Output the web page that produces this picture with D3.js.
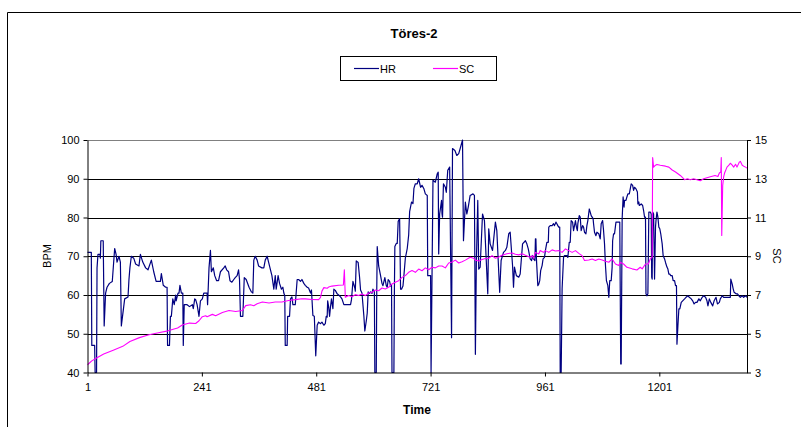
<!DOCTYPE html>
<html>
<head>
<meta charset="utf-8">
<script src="https://cdn.jsdelivr.net/npm/d3@7"></script>
<style>
  body { margin: 0; background: #fff; }
  svg { display: block; font-family: "Liberation Sans", Arial, sans-serif; }
</style>
</head>
<body>
<svg id="chart" width="801" height="427"></svg>
<script>
// Axis tick values
const timeTicks = [1, 241, 481, 721, 961, 1201];
const bpmTicks = [40, 50, 60, 70, 80, 90, 100];
const scTicks = [3, 5, 7, 9, 11, 13, 15];
const timeRange = [1, 1385];

// Heart rate (BPM), [time, value]
const hrPoints = [
  [1,71],[9,71],[10,47],[16,47],[17,40],[20,40],[21,67],[23,70.5],[27,70.5],[28,69.5],[29,74],[34,74],
  [36,52],[39,60.5],[42,62],[47,63],[53,63.5],[58,72],[61,70.5],[63,68.5],[67,70],[70,68.5],[72,52],
  [75,55],[79,59],[86,59.5],[88,64],[90,67],[93,70],[98,69.5],[102,68],[109,67.5],[112,70.5],[117,68.5],
  [123,67],[128,66.5],[135,69],[140,66],[145,63.5],[154,63.5],[156,65.5],[160,62.5],[165,62],[168,62],
  [169,47],[173,47],[175,54.5],[177,54.5],[180,59],[183,57.5],[186,60],[187,58.5],[191,60.5],[193,60.5],
  [195,62.5],[198,60.5],[201,60.5],[202,47],[204,57.5],[210,57.5],[215,57],[221,57.5],[223,56.5],
  [226,59],[228,58.8],[231,57.5],[235,54.5],[238,58.5],[242,59],[245,60.5],[252,60.5],[253,57.5],
  [256,67],[259,71.5],[261,66],[265,67],[268,65],[272,63.7],[276,63.7],[280,66],[287,67],[290,67.5],
  [293,66.5],[297,66],[300,63.7],[304,63.3],[308,64],[311,64.5],[315,65],[318,66.5],[320,64],
  [322,54.5],[327,54.5],[330,64.5],[334,64],[340,62],[345,60.8],[348,60.5],[350,69],[353,70],[357,69],
  [360,67.5],[367,67],[371,67],[374,69],[378,70],[381,68.5],[385,66.5],[388,65],[392,61.5],[395,65],
  [397,61.5],[401,65],[404,63],[408,61.5],[411,62],[413,60.5],[415,59.8],[416,47],[420,47],[421,54.5],
  [425,54.5],[427,59],[430,59.5],[432,57.5],[437,57.5],[441,64],[444,64],[448,63.5],[451,64],[455,63],
  [458,62.5],[462,62],[465,61.8],[469,60.5],[471,61.3],[474,54.7],[477,54.5],[480,44.3],[483,52.2],
  [486,53],[490,52.6],[493,53],[497,52.2],[500,52.6],[502,54.5],[504,54.3],[505,58.5],[507,57],
  [509,54.5],[511,57],[513,59],[516,56.5],[518,61.5],[521,61.2],[525,60.3],[528,60],[532,59.5],[535,59],
  [539,57.5],[546,57.5],[553,57.5],[555,58.8],[558,63.5],[562,61.8],[563,61],[565,68.8],[569,68.4],
  [572,64.5],[574,61.3],[577,60.5],[581,54.5],[583,50.7],[586,53.3],[588,55.3],[590,60.8],[593,60.4],
  [595,60.8],[598,60.4],[600,61.5],[603,60.8],[604,40],[607,40],[608,60.8],[609,72.5],[612,67.5],
  [616,65],[619,63],[621,62.4],[625,64.5],[628,62.4],[630,62],[632,64],[635,63.5],[637,62.3],[639,62.7],
  [640,40],[644,40],[645,60.5],[646,72.5],[649,73.3],[651,73.3],[653,79],[656,79.7],[658,61.5],
  [660,61.5],[663,62.3],[665,65],[668,69.5],[672,72],[675,75.5],[677,81.5],[681,84],[684,83.6],
  [686,87.5],[689,88.7],[693,88.7],[696,90],[700,87.8],[703,88.3],[707,87.4],[710,86.1],[714,85.7],
  [715,65],[721,65],[722,40],[726,89.6],[731,89.1],[735,91.3],[737,91.7],[738,70.6],[740,80.9],
  [744,84.4],[745,80.9],[746,80.1],[748,88.7],[752,87.8],[754,86.5],[757,92.2],[761,93],[765,49],
  [767,97.8],[772,97.3],[776,96],[780,96.5],[784,98.2],[788,100],[790,74],[794,84],[797,80.9],
  [800,82.7],[804,85.7],[810,86.1],[813,85.7],[815,44.7],[817,68],[820,84.4],[822,66.7],[825,67.2],
  [830,80.9],[834,79.2],[841,60.3],[843,77.1],[846,73.2],[851,71.5],[857,78.8],[860,76.6],[866,60.7],
  [869,68.9],[874,71],[878,71.5],[881,72.3],[885,75.8],[888,76.2],[893,67.6],[895,62],[897,67.2],
  [901,65],[906,64.6],[909,65.4],[914,73.2],[920,74],[923,73.2],[926,71.9],[928,70.6],[930,69.3],
  [933,68.9],[935,70.2],[937,69.3],[940,68.9],[941,74.5],[942,74.5],[943,69.7],[944,67.2],[946,62.4],
  [948,62.8],[950,63.7],[952,66.3],[955,67.6],[957,69.3],[960,69.7],[962,71.5],[965,73.6],[968,73.6],
  [969,77.5],[972,77.9],[976,77.9],[979,78.4],[981,77.9],[984,78.8],[986,78.4],[988,77.9],[990,77.5],
  [992,77.5],[993,40],[995,40],[997,61.6],[1000,69.7],[1002,70.2],[1007,70.2],[1009,69.7],[1012,73.6],
  [1014,73.6],[1016,79.2],[1019,78.8],[1021,76.6],[1023,77.9],[1025,79.2],[1027,77.5],[1029,76.6],
  [1030,78.4],[1033,80.5],[1035,80.1],[1037,76.6],[1040,77.9],[1042,77.5],[1044,76.2],[1047,75.8],
  [1049,77.9],[1051,79.2],[1054,82.2],[1056,81.4],[1058,80.5],[1062,79.7],[1063,78.4],[1065,76.2],
  [1068,75.3],[1070,76.2],[1074,75.8],[1077,74.5],[1079,78.4],[1082,79.2],[1084,76.6],[1086,73.2],
  [1088,67.6],[1090,63.7],[1093,62.4],[1095,59.4],[1097,63.7],[1100,63.7],[1102,67.2],[1103,74],
  [1105,75.8],[1107,75.8],[1110,78.8],[1113,78.8],[1116,78.8],[1118,78.8],[1120,42.2],[1121,42.2],
  [1123,79.7],[1125,85.3],[1127,82.7],[1128,84.4],[1131,84.4],[1133,85.3],[1135,86.1],[1138,86.1],
  [1140,87.4],[1142,88.7],[1145,88.3],[1147,87],[1149,87.8],[1152,87.4],[1155,86.6],[1156,83.5],
  [1158,84],[1159,83.1],[1163,83.5],[1166,83.1],[1168,81.8],[1170,80.1],[1172,80.1],[1173,60.3],
  [1175,59.8],[1177,60.3],[1179,81.4],[1182,81.4],[1184,80.9],[1185,64.6],[1186,64.1],[1187,81.4],
  [1189,80.9],[1191,64.1],[1193,77.5],[1194,79.2],[1196,81.4],[1198,80.1],[1200,77.5],[1202,77.1],
  [1204,75.8],[1207,73.2],[1209,70.2],[1212,69.3],[1214,68.4],[1217,67.2],[1219,66.7],[1221,65.4],
  [1223,65.4],[1225,65],[1228,65],[1230,63.7],[1233,63.7],[1235,62.4],[1237,62.4],[1238,47.3],
  [1240,52.1],[1242,56.4],[1244,56.4],[1247,58.1],[1250,58.5],[1254,59],[1257,59.4],[1261,59.8],
  [1264,59.4],[1268,59],[1271,58.5],[1274,57.7],[1277,58.1],[1280,58.1],[1284,59],[1287,58.5],
  [1291,59.4],[1294,59.8],[1298,59.4],[1301,58.5],[1303,57.2],[1306,59],[1309,58.1],[1313,57.2],
  [1316,58.5],[1320,59.4],[1323,57.7],[1327,58.1],[1329,59],[1333,59.8],[1336,59.4],[1340,59.4],
  [1343,59.4],[1347,59.4],[1350,59.4],[1351,64.1],[1354,62.8],[1356,61.6],[1358,60.7],[1362,60.3],
  [1365,60.3],[1368,59.8],[1371,59.4],[1375,59.8],[1378,59.4],[1382,59.8],[1385,59.4]
];

// Skin conductance (SC), [time, value]
const scPoints = [
  [1,3.4],[10,3.6],[20,3.75],[35,3.95],[55,4.15],[75,4.35],[90,4.6],[110,4.8],[130,4.95],[150,5.05],
  [170,5.15],[190,5.3],[200,5.45],[215,5.55],[228,5.53],[235,5.67],[242,5.88],[249,5.93],[252,5.88],
  [263,6.0],[270,5.93],[284,6.1],[298,6.2],[312,6.15],[326,6.2],[333,6.45],[343,6.5],[350,6.45],
  [357,6.55],[368,6.64],[382,6.59],[395,6.64],[409,6.64],[423,6.72],[437,6.76],[451,6.81],[458,6.8],
  [472,6.77],[486,6.76],[490,6.88],[493,7.2],[497,7.38],[504,7.35],[507,7.41],[514,7.46],[528,7.5],
  [538,7.52],[540,8.3],[542,6.88],[549,6.97],[556,6.91],[563,7.02],[570,6.97],[577,7.05],[584,6.97],
  [591,7.1],[598,7.14],[605,7.26],[612,7.22],[619,7.36],[626,7.31],[633,7.4],[640,7.57],[647,7.66],
  [654,7.74],[661,7.91],[668,8.0],[675,8.17],[682,8.26],[689,8.17],[696,8.34],[703,8.25],[710,8.4],
  [717,8.3],[724,8.43],[731,8.4],[738,8.5],[745,8.5],[752,8.4],[759,8.65],[766,8.7],[773,8.8],
  [780,8.65],[787,8.72],[794,8.8],[804,8.95],[811,8.9],[815,8.8],[822,8.75],[829,8.83],[836,8.88],
  [843,8.9],[850,9.03],[857,8.9],[864,8.96],[871,9.05],[881,9.13],[892,9.17],[899,9.1],[906,9.07],
  [913,9.13],[920,9.05],[927,8.98],[930,8.95],[934,9.03],[937,8.9],[941,9.2],[948,9.12],[951,9.3],
  [958,9.2],[962,9.29],[969,9.2],[976,9.33],[983,9.27],[990,9.29],[997,9.2],[1004,9.38],[1011,9.29],
  [1018,9.2],[1025,9.29],[1032,9.15],[1039,9.03],[1044,8.78],[1053,8.81],[1060,8.86],[1067,8.78],
  [1074,8.86],[1081,8.81],[1088,8.74],[1095,8.69],[1102,8.86],[1109,8.6],[1116,8.52],[1119,8.69],
  [1126,8.6],[1133,8.43],[1144,8.35],[1154,8.29],[1161,8.43],[1165,8.35],[1172,8.6],[1178,8.6],
  [1182,8.86],[1186,8.95],[1187,14.1],[1189,13.6],[1193,13.7],[1196,13.74],[1203,13.7],
  [1214,13.65],[1221,13.6],[1228,13.45],[1235,13.35],[1245,13.17],[1254,12.95],[1260,13.0],
  [1266,12.95],[1273,13.0],[1280,12.95],[1287,12.9],[1294,13.0],[1301,13.05],[1308,13.1],[1318,13.17],
  [1324,13.12],[1327,13.3],[1330,13.35],[1331,14.1],[1332,10.07],[1334,12.65],[1336,13.1],[1338,13.3],
  [1343,13.6],[1347,13.7],[1350,13.8],[1354,13.7],[1357,13.6],[1361,13.75],[1364,13.6],[1369,13.86],
  [1371,13.9],[1375,13.7],[1378,13.65],[1382,13.6],[1385,13.55]
];

const svg = d3.select("#chart");
const plot = { left: 87.5, right: 747, top: 140, bottom: 372.5 };

const x = d3.scaleLinear().domain(timeRange).range([plot.left, plot.right]);
const yL = d3.scaleLinear().domain([40, 100]).range([plot.bottom, plot.top]);
const yR = d3.scaleLinear().domain([3, 15]).range([plot.bottom, plot.top]);

// chart frame (left and top edges)
svg.append("path")
  .attr("d", `M7.5,427 V12.5 H801`)
  .attr("fill", "none").attr("stroke", "#000").attr("stroke-width", 1);

// title
svg.append("text").attr("x", 414).attr("y", 38).attr("text-anchor", "middle")
  .attr("font-size", 13).attr("font-weight", "bold").text("Töres-2");

// legend
const lg = svg.append("g");
lg.append("rect").attr("x", 340.5).attr("y", 56.5).attr("width", 156).attr("height", 24)
  .attr("fill", "#fff").attr("stroke", "#000");
const legendItems = [
  { name: "HR", color: "#000080", x0: 354 },
  { name: "SC", color: "#ff00ff", x0: 433 }
];
legendItems.forEach(it => {
  lg.append("line").attr("x1", it.x0).attr("x2", it.x0 + 25).attr("y1", 68.5).attr("y2", 68.5)
    .attr("stroke", it.color).attr("stroke-width", 1.2);
  lg.append("text").attr("x", it.x0 + 26).attr("y", 72.5).attr("font-size", 11).text(it.name);
});

// horizontal gridlines
svg.append("g").selectAll("line").data(bpmTicks.filter(v => v > 40 && v < 100)).join("line")
  .attr("x1", plot.left).attr("x2", plot.right)
  .attr("y1", d => Math.round(yL(d)) + 0.5).attr("y2", d => Math.round(yL(d)) + 0.5)
  .attr("stroke", "#000").attr("stroke-width", 1);

// plot area top edge
svg.append("line").attr("x1", plot.left).attr("x2", plot.right)
  .attr("y1", plot.top + 0.5).attr("y2", plot.top + 0.5)
  .attr("stroke", "#808080").attr("stroke-width", 1);

// series
const hrLine = d3.line().x(d => x(d[0])).y(d => yL(d[1]));
const scLine = d3.line().x(d => x(d[0])).y(d => yR(d[1]));

svg.append("path").datum(hrPoints).attr("d", hrLine)
  .attr("fill", "none").attr("stroke", "#000080").attr("stroke-width", 1.2)
  .attr("stroke-linejoin", "round");
svg.append("path").datum(scPoints).attr("d", scLine)
  .attr("fill", "none").attr("stroke", "#ff00ff").attr("stroke-width", 1.1)
  .attr("stroke-linejoin", "round");

// axes
function styleAxis(g) {
  g.select(".domain").attr("stroke", "#000");
  g.selectAll(".tick line").attr("stroke", "#000");
  g.selectAll(".tick text").attr("font-size", 11).attr("fill", "#000")
    .attr("font-family", '"Liberation Sans", Arial, sans-serif');
}

svg.append("g").attr("transform", `translate(${plot.left},0)`)
  .call(d3.axisLeft(yL).tickValues(bpmTicks).tickSize(4).tickSizeOuter(0).tickPadding(4))
  .call(styleAxis);

svg.append("g").attr("transform", `translate(${plot.right},0)`)
  .call(d3.axisRight(yR).tickValues(scTicks).tickSize(4).tickSizeOuter(0).tickPadding(4))
  .call(styleAxis);

svg.append("g").attr("transform", `translate(0,${plot.bottom})`)
  .call(d3.axisBottom(x).tickValues(timeTicks).tickFormat(d3.format("d")).tickSize(4).tickSizeOuter(0).tickPadding(7))
  .call(styleAxis);

// axis titles
svg.append("text").attr("transform", `translate(51,256) rotate(-90)`)
  .attr("text-anchor", "middle").attr("font-size", 11).text("BPM");
svg.append("text").attr("transform", `translate(773,256) rotate(90)`)
  .attr("text-anchor", "middle").attr("font-size", 11).text("SC");
svg.append("text").attr("x", 417).attr("y", 414).attr("text-anchor", "middle")
  .attr("font-size", 12).attr("font-weight", "bold").text("Time");
</script>
</body>
</html>
